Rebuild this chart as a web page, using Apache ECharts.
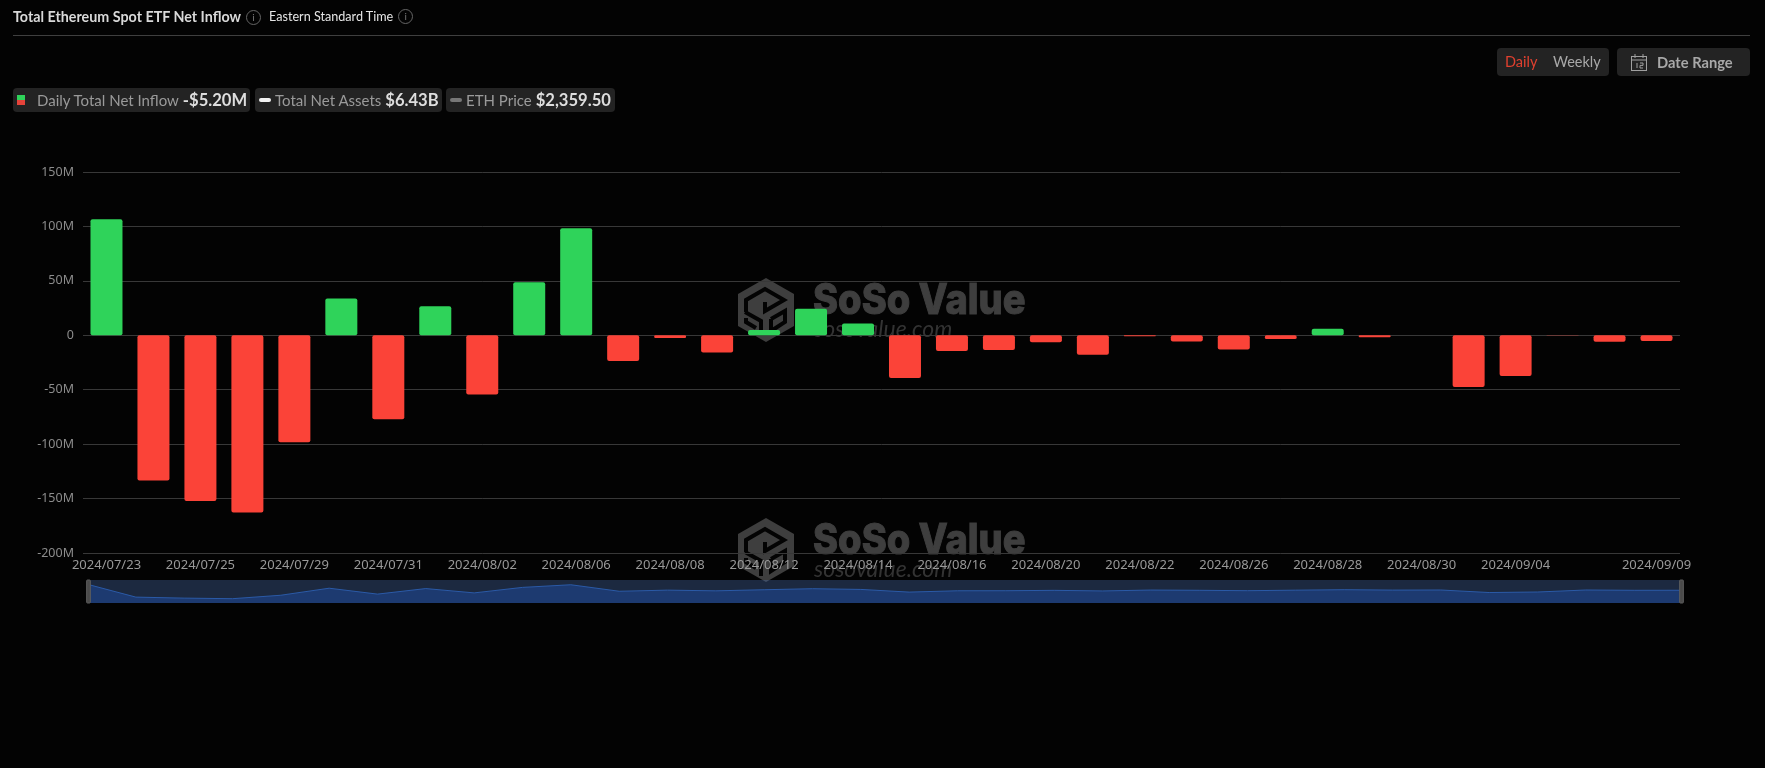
<!DOCTYPE html>
<html>
<head>
<meta charset="utf-8">
<title>Total Ethereum Spot ETF Net Inflow</title>
<script src="https://cdn.jsdelivr.net/npm/echarts@6/dist/echarts.min.js"></script>
<style>
  html, body { margin: 0; padding: 0; background: #030303; width: 1765px; height: 768px; overflow: hidden; font-family: Lato, "Noto Sans", sans-serif; }
  #charts { position: absolute; left: 0; top: 0; width: 1765px; height: 768px; }
  .head { position: absolute; left: 13px; top: 8px; color: #d9d9d9; font-size: 14.3px; font-weight: 700; white-space: nowrap; }
  .head .tz { position: absolute; left: 256px; top: 0; color: #e6e6e6; font-size: 12.6px; font-weight: 400; line-height: 17px; }
  .info { display: inline-block; width: 13px; height: 13px; border: 1px solid #666; border-radius: 50%; color: #777; font-size: 10px; line-height: 13px; text-align: center; font-weight: 400; margin-left: 5px; vertical-align: 1px; }
  .rule { position: absolute; left: 13px; top: 35px; width: 1737px; height: 1px; background: #3f3f3f; }
  .pill { position: absolute; top: 88px; height: 24px; background: #232323; border-radius: 4px; color: #9a9a9a; font-size: 15px; line-height: 24px; white-space: nowrap; }
  .pill b { color: #dedede; font-size: 16.6px; font-weight: 700; margin-left: 4px; }
  .pill i { position: absolute; display: block; }
  .tabs { position: absolute; left: 1497px; top: 48px; width: 112px; height: 28px; background: #232323; border-radius: 4px; font-size: 14.5px; line-height: 28px; }
  .tabs span { position: absolute; top: 0; }
  .btn { position: absolute; left: 1617px; top: 48px; width: 133px; height: 28px; background: #232323; border-radius: 4px; color: #a8a8a8; font-size: 14.7px; font-weight: 700; line-height: 28px; }
  .btn span { position: absolute; left: 40px; top: 0; white-space: nowrap; }
  .btn svg { position: absolute; left: 14px; top: 6px; }
</style>
</head>
<body>
<div id="charts"></div>
<div class="head">Total Ethereum Spot ETF Net Inflow<span class="info">i</span><span class="tz">Eastern Standard Time<span class="info">i</span></span></div>
<div class="rule"></div>
<div class="tabs"><span style="left:8px;color:#e0402f">Daily</span><span style="left:56px;color:#a8a8a8">Weekly</span></div>
<div class="btn">
  <svg width="16" height="17" viewBox="0 0 16 17" fill="none" stroke="#a0a0a0"><rect x="0.5" y="2.5" width="15" height="14"/><path d="M0.5 6h15M4 0v4M12 0v4M6 9v5M9 9h3v2.4h-3v2.6h3"/></svg>
  <span>Date Range</span>
</div>
<div class="pill" style="left:13px;width:237px">
  <i style="left:4px;top:7px;width:8px;height:5px;background:#2fd35a"></i>
  <i style="left:4px;top:12px;width:8px;height:5px;background:#e5433a"></i>
  <span style="position:absolute;left:24px">Daily Total Net Inflow<b>-$5.20M</b></span>
</div>
<div class="pill" style="left:255px;width:187px">
  <i style="left:4px;top:10px;width:12px;height:4px;border-radius:2px;background:#f2f2f2"></i>
  <span style="position:absolute;left:20px">Total Net Assets<b>$6.43B</b></span>
</div>
<div class="pill" style="left:446px;width:169px">
  <i style="left:4px;top:10px;width:12px;height:4px;border-radius:2px;background:#777"></i>
  <span style="position:absolute;left:20px">ETH Price<b>$2,359.50</b></span>
</div>
<script>
var dateList = ["2024/07/23","2024/07/24","2024/07/25","2024/07/26","2024/07/29","2024/07/30","2024/07/31","2024/08/01","2024/08/02","2024/08/05","2024/08/06","2024/08/07","2024/08/08","2024/08/09","2024/08/12","2024/08/13","2024/08/14","2024/08/15","2024/08/16","2024/08/19","2024/08/20","2024/08/21","2024/08/22","2024/08/23","2024/08/26","2024/08/27","2024/08/28","2024/08/29","2024/08/30","2024/09/03","2024/09/04","2024/09/05","2024/09/06","2024/09/09"];
var netInflow = [106.6,-133.3,-152.3,-162.7,-98.3,33.7,-77.1,26.7,-54.3,48.8,98.4,-23.6,-2.6,-15.7,4.9,24.3,10.8,-39.2,-14.5,-13.5,-6.5,-17.8,-0.9,-5.7,-13.1,-3.4,5.9,-1.8,0,-47.4,-37.5,-0.2,-5.9,-5.2];

var GREEN = "#2fd35a";
var RED = "#fb4338";
var MARK = "#3e3e3e";
var BG = "#030303";

// watermark drawn twice, logo + wordmark + url
function watermark(x, y) {
  function line(points) {
    return { type: "polyline", z: -5, silent: true, x: x, y: y, shape: { points: points }, style: { fill: "none", stroke: BG, lineWidth: 4 } };
  }
  return [
    { type: "polygon", z: -5, silent: true, x: x, y: y, shape: { points: [[28,0],[56,16],[56,48],[28,64],[0,48],[0,16]] }, style: { fill: MARK } },
    line([[8,34],[8,22],[27,11],[46,22],[27,33],[27,24]]),
    line([[7,34],[23,43],[23,58]]),
    line([[33,41],[47,33],[47,44],[33,53],[33,41]]),
    line([[8,40],[8,44],[18,50]]),
    { type: "text", z: -5, silent: true, x: x + 75, y: y + 2, scaleX: 0.905, style: { text: "SoSo Value", fill: MARK, stroke: MARK, lineWidth: 1, font: "800 42px Inter" } },
    { type: "text", z: -5, silent: true, x: x + 76, y: y + 40, style: { text: "sosovalue.com", fill: "#333333", font: "italic 400 23px Lato" } }
  ];
}

var chartDom = document.getElementById("charts");
var myChart = echarts.init(chartDom);
var option = {
  animation: false,
  backgroundColor: BG,
  graphic: { elements: watermark(738, 278).concat(watermark(738, 518)) },
  grid: { left: 83, right: 85, top: 172, height: 381 },
  xAxis: {
    type: "category",
    data: dateList,
    axisLine: { show: false },
    axisTick: { show: false },
    axisLabel: {
      color: "#999999",
      fontSize: 13,
      fontFamily: "Noto Sans",
      margin: 6,
      showMaxLabel: true,
      hideOverlap: false,
      interval: function (i) { return i === dateList.length - 1 || (i % 2 === 0 && i <= 30); }
    }
  },
  yAxis: {
    type: "value",
    min: -200,
    max: 150,
    interval: 50,
    axisLabel: {
      color: "#8c8c8c",
      fontSize: 12.5,
      fontFamily: "Noto Sans",
      margin: 9,
      formatter: function (v) { return v === 0 ? "0" : v + "M"; }
    },
    axisLine: { show: false },
    axisTick: { show: false },
    splitLine: { lineStyle: { color: "#383838", width: 1 } }
  },
  dataZoom: [{
    type: "slider",
    xAxisIndex: 0,
    start: 0,
    end: 100,
    left: 85,
    right: 85,
    top: 580,
    height: 23,
    showDetail: false,
    brushSelect: false,
    moveHandleSize: 0,
    borderColor: "transparent",
    backgroundColor: "transparent",
    fillerColor: "rgba(70,105,165,0.38)",
    handleIcon: "path://M3,0 L13,0 Q16,0 16,3 L16,97 Q16,100 13,100 L3,100 Q0,100 0,97 L0,3 Q0,0 3,0 Z",
    handleSize: "100%",
    handleStyle: { color: "#4a4a4a", borderColor: "#5e5e5e" },
    dataBackground: {
      lineStyle: { color: "#1a51a8", width: 1, opacity: 1 },
      areaStyle: { color: "#041d4f", opacity: 1 }
    },
    selectedDataBackground: {
      lineStyle: { color: "#1a51a8", width: 1, opacity: 1 },
      areaStyle: { color: "#041d4f", opacity: 1 }
    }
  }],
  series: [{
    name: "Daily Total Net Inflow",
    type: "bar",
    data: netInflow,
    barWidth: 32,
    itemStyle: {
      borderRadius: 2,
      color: function (p) { return p.value >= 0 ? GREEN : RED; }
    }
  }]
};
myChart.setOption(option);
</script>
</body>
</html>
